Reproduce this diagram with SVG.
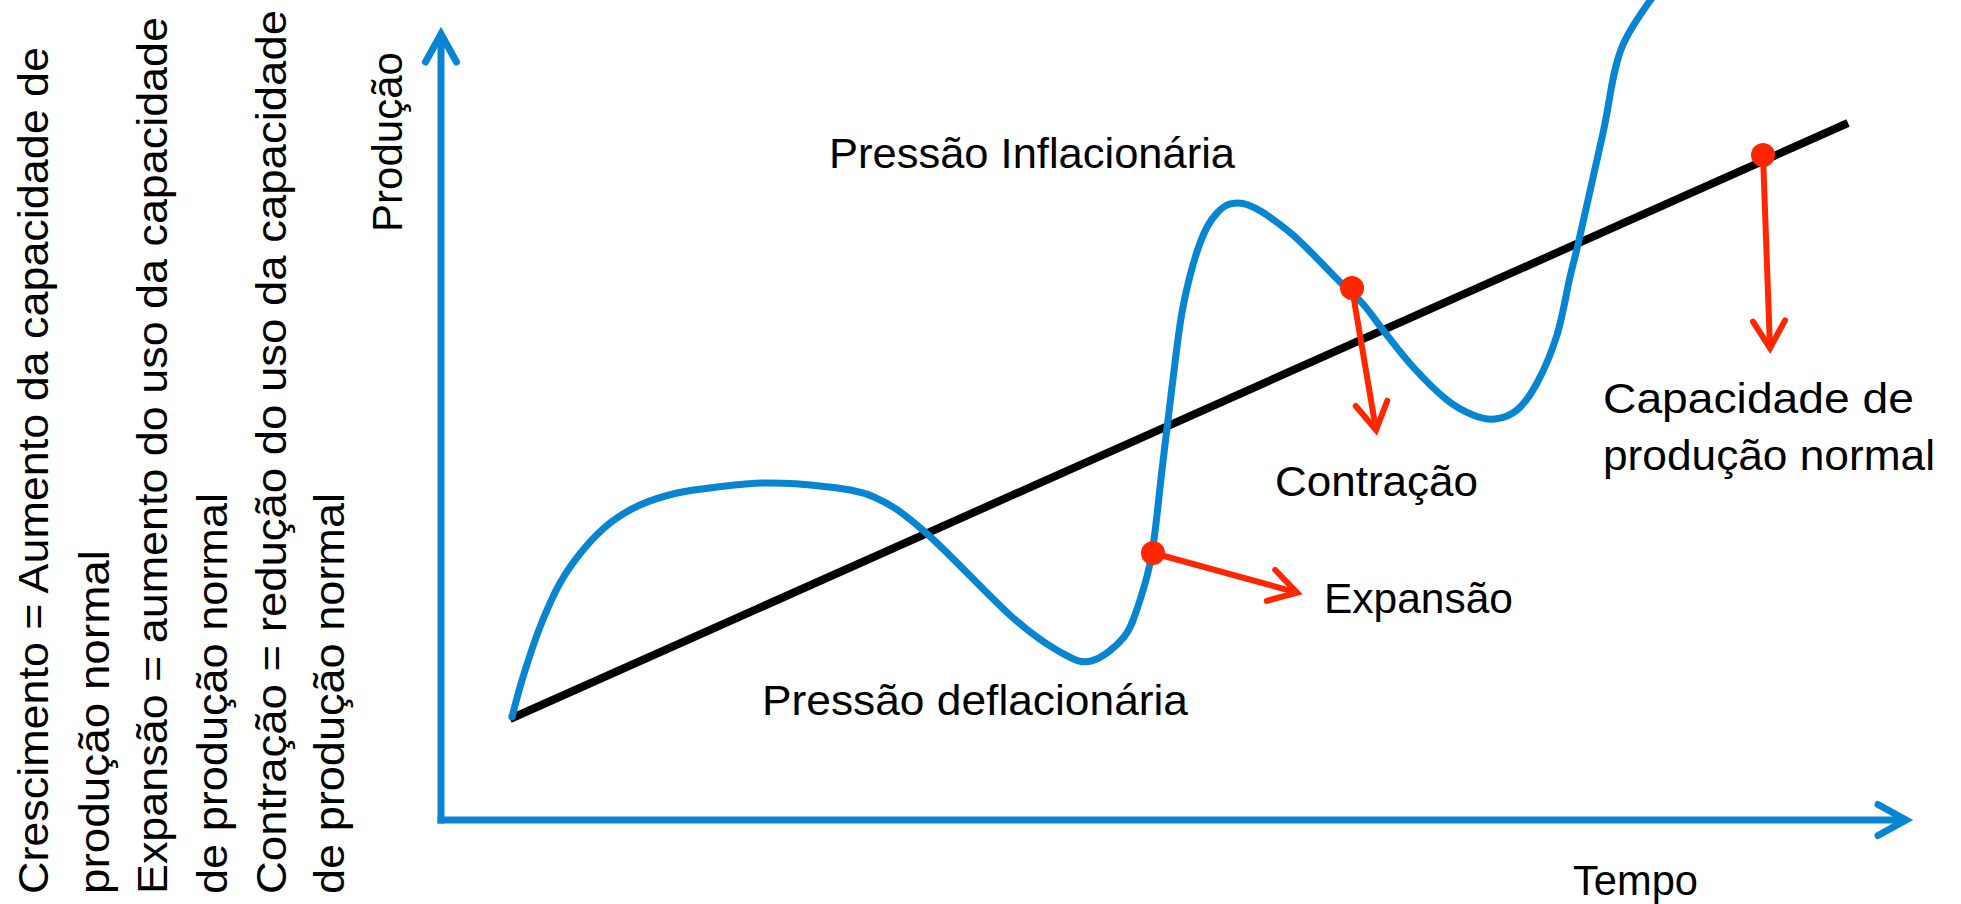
<svg xmlns="http://www.w3.org/2000/svg" width="1961" height="904" viewBox="0 0 1961 904">
<style>
  .lbl { font-family: "Liberation Sans", Arial, sans-serif; font-size: 42px; fill: #000; }
  .side { font-family: "Liberation Sans", Arial, sans-serif; font-size: 43px; fill: #000; }
  .axis { fill: none; stroke: #0785D3; stroke-width: 7; stroke-linecap: butt; }
  .curve { fill: none; stroke: #0785D3; stroke-width: 7; stroke-linecap: round; stroke-linejoin: round; }
  .trend { fill: none; stroke: #000; stroke-width: 8; stroke-linecap: butt; }
  .red { fill: none; stroke: #FF2600; stroke-width: 6; stroke-linecap: butt; }
  .dot { fill: #FF2600; }
</style>
<defs>
  <marker id="ahBlue" markerUnits="userSpaceOnUse" markerWidth="80" markerHeight="80" refX="0" refY="0" orient="auto" overflow="visible" viewBox="-40 -40 80 80">
    <path d="M-28,-15.5 L0,0 L-28,15.5" fill="none" stroke="#0785D3" stroke-width="7" stroke-linecap="round" stroke-linejoin="miter"/>
  </marker>
  <marker id="ahRed" markerUnits="userSpaceOnUse" markerWidth="80" markerHeight="80" refX="0" refY="0" orient="auto" overflow="visible" viewBox="-40 -40 80 80">
    <path d="M-27,-16 L0,0 L-27,16" fill="none" stroke="#FF2600" stroke-width="6" stroke-linecap="round" stroke-linejoin="miter"/>
  </marker>
</defs>
<rect x="0" y="0" width="1961" height="904" fill="#fff"/>

<g id="side-notes">
  <text class="side" transform="translate(48,894) rotate(-90)" textLength="847" lengthAdjust="spacingAndGlyphs">Crescimento = Aumento da capacidade de</text>
  <text class="side" transform="translate(109,894) rotate(-90)" textLength="344" lengthAdjust="spacingAndGlyphs">produção normal</text>
  <text class="side" transform="translate(167,894) rotate(-90)" textLength="877" lengthAdjust="spacingAndGlyphs">Expansão = aumento do uso da capacidade</text>
  <text class="side" transform="translate(227,894) rotate(-90)" textLength="401" lengthAdjust="spacingAndGlyphs">de produção normal</text>
  <text class="side" transform="translate(286,894) rotate(-90)" textLength="884" lengthAdjust="spacingAndGlyphs">Contração = redução do uso da capacidade</text>
  <text class="side" transform="translate(344,894) rotate(-90)" textLength="401" lengthAdjust="spacingAndGlyphs">de produção normal</text>
</g>

<g id="axes">
  <line class="axis" x1="441" y1="823.5" x2="441" y2="34" marker-end="url(#ahBlue)"/>
  <line class="axis" x1="437.5" y1="820" x2="1906" y2="820" marker-end="url(#ahBlue)"/>
  <text id="label-producao" class="lbl" transform="translate(402,232) rotate(-90)" textLength="180" lengthAdjust="spacingAndGlyphs">Produção</text>
  <text id="label-tempo" class="lbl" x="1573" y="895" textLength="125" lengthAdjust="spacingAndGlyphs">Tempo</text>
</g>

<g id="trend-line">
  <line class="trend" x1="510" y1="719" x2="1848" y2="123"/>
</g>

<g id="cycle-curve">
  <path class="curve" d="M512,717 C513.8,710.3 518.3,692 523,677 C527.7,662 533.8,642.7 540,627 C546.2,611.3 552.8,595.8 560,583 C567.2,570.2 574.7,560 583,550 C591.3,540 600.5,530.5 610,523 C619.5,515.5 628.8,510 640,505 C651.2,500 664.2,496 677,493 C689.8,490 702.3,488.7 717,487 C731.7,485.3 747.8,483.2 765,483 C782.2,482.8 801.8,483.7 820,486 C838.2,488.3 856.5,489.3 874,497 C891.5,504.7 902,512 925,532 C948,552 989.5,597 1012,617 C1034.5,637 1046.8,644.7 1060,652 C1073.2,659.3 1080.3,663.5 1091,661 C1101.7,658.5 1115.8,647.2 1124,637 C1132.2,626.8 1135.3,614 1140,600 C1144.7,586 1148.3,574.7 1152,553 C1155.7,531.3 1158.7,497.7 1162,470 C1165.3,442.3 1168.5,414.2 1172,387 C1175.5,359.8 1178.3,331 1183,307 C1187.7,283 1194.3,258.7 1200,243 C1205.7,227.3 1210.7,219.7 1217,213 C1223.3,206.3 1228,203 1238,203 C1252,203 1270,216.8 1287,230 C1304,243.2 1327.3,269.7 1340,282 C1352.7,294.3 1355.8,296 1363,304 C1370.2,312 1374.7,319.5 1383,330 C1391.3,340.5 1402.3,355.3 1413,367 C1423.7,378.7 1437,392 1447,400 C1457,408 1465,411.8 1473,415 C1481,418.2 1487.7,419.8 1495,419 C1502.3,418.2 1510,416 1517,410 C1524,404 1530.3,395.5 1537,383 C1543.7,370.5 1551.5,352.7 1557,335 C1562.5,317.3 1566.3,292.8 1570,277 C1573.7,261.2 1573.5,264 1579,240 C1584.5,216 1595.8,165.2 1603,133 C1610.2,100.8 1611.7,72.5 1622,47 C1632.3,21.5 1657.8,-8.8 1665,-20"/>
</g>

<g id="connectors">
  <line class="red" x1="1153" y1="553" x2="1297" y2="592.6" marker-end="url(#ahRed)"/>
  <line class="red" x1="1352" y1="288" x2="1376" y2="430" marker-end="url(#ahRed)"/>
  <line class="red" x1="1763" y1="155" x2="1770" y2="348" marker-end="url(#ahRed)"/>
</g>

<g id="node-expansao">
  <circle class="dot" cx="1153" cy="553" r="12"/>
  <text class="lbl" x="1324" y="613" textLength="189" lengthAdjust="spacingAndGlyphs">Expansão</text>
</g>
<g id="node-contracao">
  <circle class="dot" cx="1352" cy="288" r="12"/>
  <text class="lbl" x="1275" y="496" textLength="203" lengthAdjust="spacingAndGlyphs">Contração</text>
</g>
<g id="node-capacidade">
  <circle class="dot" cx="1763" cy="155" r="12"/>
  <text class="lbl" x="1603" y="413" textLength="311" lengthAdjust="spacingAndGlyphs">Capacidade de</text>
  <text class="lbl" x="1603" y="470" textLength="332" lengthAdjust="spacingAndGlyphs">produção normal</text>
</g>
<g id="node-inflacionaria">
  <text class="lbl" x="829" y="168" textLength="406" lengthAdjust="spacingAndGlyphs">Pressão Inflacionária</text>
</g>
<g id="node-deflacionaria">
  <text class="lbl" x="762" y="715" textLength="426" lengthAdjust="spacingAndGlyphs">Pressão deflacionária</text>
</g>
</svg>
